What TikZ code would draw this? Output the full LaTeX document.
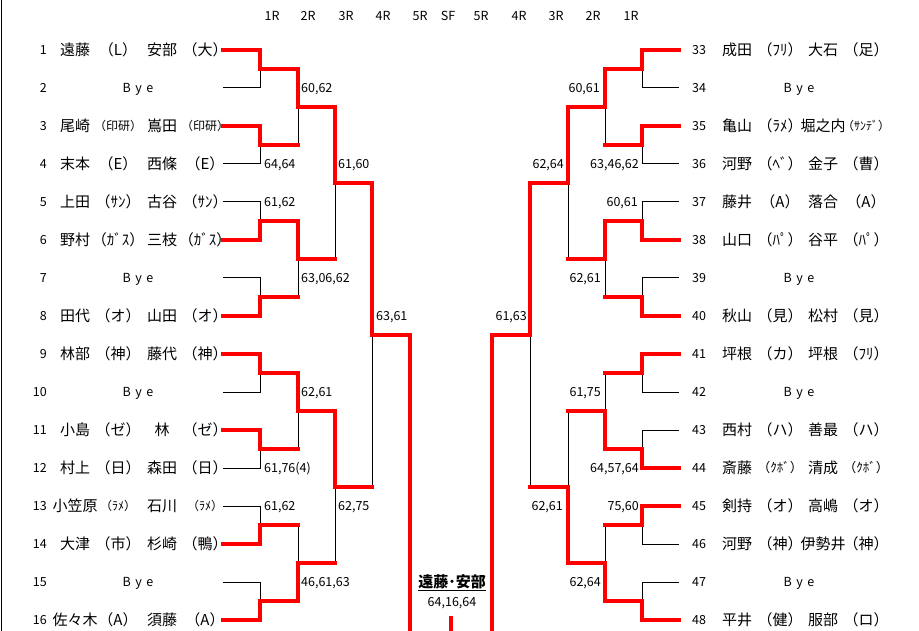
\documentclass[tikz,border=0pt]{standalone}
\usepackage{fontspec}
\setmainfont{Noto Sans CJK JP}
\usetikzlibrary{calc}
\pgfdeclarelayer{back}
\pgfdeclarelayer{paper}
\pgfsetlayers{paper,back,main}
\newcommand{\smf}{\fontsize{12}{12}\selectfont}
\tikzset{
  win/.style={draw=red, line width=3.3pt, line cap=rect, line join=miter},
  lose/.style={draw=black, line width=1pt},
  num/.style={font=\fontsize{12.5}{12.5}\selectfont, inner sep=0pt, text height=9pt, text depth=0pt},
  nm/.style={font=\fontsize{15}{15}\selectfont, inner sep=0pt},
  sc/.style={font=\fontsize{12.5}{12.5}\selectfont, inner sep=0pt, text height=9pt, text depth=0pt},
}
% first-round match: top row, bottom row, column, next column, name, winner (t/b)
\newcommand{\rone}[6]{%
  \coordinate (#5t) at (#3 |- #1);
  \coordinate (#5b) at (#3 |- #2);
  \coordinate (#5) at ($(#5t)!0.5!(#5b)$);
  \coordinate (#5o) at (#4 |- #5);
  \if#6t
    \begin{pgfonlayer}{back}\draw[lose] (#2) -- (#5b) -- (#5);\end{pgfonlayer}
    \draw[win] (#1) -- (#5t) -- (#5) -- (#5o);
  \else
    \begin{pgfonlayer}{back}\draw[lose] (#1) -- (#5t) -- (#5);\end{pgfonlayer}
    \draw[win] (#2) -- (#5b) -- (#5) -- (#5o);
  \fi
}
% later-round match
\newcommand{\brk}[6]{%
  \coordinate (#5t) at (#3 |- #1);
  \coordinate (#5b) at (#3 |- #2);
  \coordinate (#5) at ($(#5t)!0.5!(#5b)$);
  \coordinate (#5o) at (#4 |- #5);
  \if#6t
    \begin{pgfonlayer}{back}\draw[lose] (#5b) -- (#5);\end{pgfonlayer}
    \draw[win] (#5t) -- (#5) -- (#5o);
  \else
    \begin{pgfonlayer}{back}\draw[lose] (#5t) -- (#5);\end{pgfonlayer}
    \draw[win] (#5b) -- (#5) -- (#5o);
  \fi
}
\newcommand{\entL}[5]{%
  \pgfmathsetmacro{\yy}{50+38*(#1-1)}
  \coordinate (L#1) at (223,\yy);
  \node[num, anchor=east] (numL#1) at (47,\yy) {#1};
  \node[nm] (naL#1) at (75,\yy) {#2};
  \node[nm] (afL#1) at (118,\yy) {#3};
  \node[nm] (nbL#1) at (162,\yy) {#4};
  \node[nm] (agL#1) at (205,\yy) {#5};
}
\newcommand{\byeL}[1]{%
  \pgfmathsetmacro{\yy}{50+38*(#1-1)}
  \coordinate (L#1) at (223,\yy);
  \node[num, anchor=east] (numL#1) at (47,\yy) {#1};
  \node[num, text depth=2.5pt] (byeL#1) at (138,\yy+1.2) {B\hspace{4.5pt}y\hspace{4.5pt}e};
}
\newcommand{\entR}[5]{%
  \pgfmathsetmacro{\yy}{50+38*(#1-33)}
  \coordinate (R#1) at (679,\yy);
  \node[num, anchor=west] (numR#1) at (692,\yy) {#1};
  \node[nm] (naR#1) at (737,\yy) {#2};
  \node[nm] (afR#1) at (780,\yy) {#3};
  \node[nm] (nbR#1) at (823,\yy) {#4};
  \node[nm] (agR#1) at (866,\yy) {#5};
}
\newcommand{\byeR}[1]{%
  \pgfmathsetmacro{\yy}{50+38*(#1-33)}
  \coordinate (R#1) at (679,\yy);
  \node[num, anchor=west] (numR#1) at (692,\yy) {#1};
  \node[num, text depth=2.5pt] (byeR#1) at (799,\yy+1.2) {B\hspace{4.5pt}y\hspace{4.5pt}e};
}
\begin{document}
\begin{tikzpicture}[x=1pt,y=-1pt]
\useasboundingbox (0,0) rectangle (919,631);
\begin{pgfonlayer}{paper}\fill[white] (0,0) rectangle (919,631);\end{pgfonlayer}
\coordinate (bot) at (0,631);
\coordinate (border) at (1,0);
\draw[black, line width=1pt] (border) -- (border |- bot);

% headers
\foreach \lab/\xx [count=\k] in {1R/272,2R/308,3R/346,4R/383,5R/420,SF/448,5R/481,4R/519,3R/556,2R/593,1R/631}
  \node[num] (hd\k) at (\xx,16) {\lab};

% columns
\coordinate (cL1) at (260,0); \coordinate (cL2) at (298,0); \coordinate (cL3) at (335,0);
\coordinate (cL4) at (372,0); \coordinate (cL5) at (410,0);
\coordinate (cR1) at (642,0); \coordinate (cR2) at (605,0); \coordinate (cR3) at (568,0);
\coordinate (cR4) at (530,0); \coordinate (cR5) at (492,0);

% left entries
\entL{1}{遠藤}{（L）}{安部}{（大）}
\byeL{2}
\entL{3}{尾崎}{\smf （印研）}{嶌田}{\smf （印研）}
\entL{4}{末本}{（E）}{西條}{（E）}
\entL{5}{上田}{（ｻﾝ）}{古谷}{（ｻﾝ）}
\entL{6}{野村}{（ｶﾞｽ）}{三枝}{（ｶﾞｽ）}
\byeL{7}
\entL{8}{田代}{（オ）}{山田}{（オ）}
\entL{9}{林部}{（神）}{藤代}{（神）}
\byeL{10}
\entL{11}{小島}{（ゼ）}{林}{（ゼ）}
\entL{12}{村上}{（日）}{森田}{（日）}
\entL{13}{小笠原}{\smf （ﾗﾒ）}{石川}{\smf （ﾗﾒ）}
\entL{14}{大津}{（市）}{杉崎}{（鴨）}
\byeL{15}
\entL{16}{佐々木}{（A）}{須藤}{（A）}

% right entries
\entR{33}{成田}{（ﾌﾘ）}{大石}{（足）}
\byeR{34}
\entR{35}{亀山}{（ﾗﾒ）}{堀之内}{\smf （ｻﾝﾃﾞ）}
\entR{36}{河野}{（ﾍﾞ）}{金子}{（曹）}
\entR{37}{藤井}{（A）}{落合}{（A）}
\entR{38}{山口}{（ﾊﾟ）}{谷平}{（ﾊﾟ）}
\byeR{39}
\entR{40}{秋山}{（見）}{松村}{（見）}
\entR{41}{坪根}{（カ）}{坪根}{（ﾌﾘ）}
\byeR{42}
\entR{43}{西村}{（ハ）}{善最}{（ハ）}
\entR{44}{斎藤}{\fontsize{13}{13}\selectfont （ｸﾎﾞ）}{清成}{\fontsize{13}{13}\selectfont （ｸﾎﾞ）}
\entR{45}{剣持}{（オ）}{高嶋}{（オ）}
\entR{46}{河野}{（神）}{伊勢井}{（神）}
\byeR{47}
\entR{48}{平井}{（健）}{服部}{（ロ）}

% left bracket
\rone{L1}{L2}{cL1}{cL2}{ma}{t}
\rone{L3}{L4}{cL1}{cL2}{mb}{t}
\rone{L5}{L6}{cL1}{cL2}{mc}{b}
\rone{L7}{L8}{cL1}{cL2}{md}{b}
\rone{L9}{L10}{cL1}{cL2}{me}{t}
\rone{L11}{L12}{cL1}{cL2}{mf}{t}
\rone{L13}{L14}{cL1}{cL2}{mg}{b}
\rone{L15}{L16}{cL1}{cL2}{mh}{b}
\brk{mao}{mbo}{cL2}{cL3}{na}{t}
\brk{mco}{mdo}{cL2}{cL3}{nb}{t}
\brk{meo}{mfo}{cL2}{cL3}{nc}{t}
\brk{mgo}{mho}{cL2}{cL3}{nd}{b}
\brk{nao}{nbo}{cL3}{cL4}{qa}{t}
\brk{nco}{ndo}{cL3}{cL4}{qb}{t}
\brk{qao}{qbo}{cL4}{cL5}{sa}{t}
\draw[win] (sao) -- (sao |- bot);

% right bracket
\rone{R33}{R34}{cR1}{cR2}{Ma}{t}
\rone{R35}{R36}{cR1}{cR2}{Mb}{t}
\rone{R37}{R38}{cR1}{cR2}{Mc}{b}
\rone{R39}{R40}{cR1}{cR2}{Md}{b}
\rone{R41}{R42}{cR1}{cR2}{Me}{t}
\rone{R43}{R44}{cR1}{cR2}{Mf}{b}
\rone{R45}{R46}{cR1}{cR2}{Mg}{t}
\rone{R47}{R48}{cR1}{cR2}{Mh}{b}
\brk{Mao}{Mbo}{cR2}{cR3}{Na}{t}
\brk{Mco}{Mdo}{cR2}{cR3}{Nb}{t}
\brk{Meo}{Mfo}{cR2}{cR3}{Nc}{b}
\brk{Mgo}{Mho}{cR2}{cR3}{Nd}{b}
\brk{Nao}{Nbo}{cR3}{cR4}{Qa}{t}
\brk{Nco}{Ndo}{cR3}{cR4}{Qb}{b}
\brk{Qao}{Qbo}{cR4}{cR5}{Sa}{t}
\draw[win] (Sao) -- (Sao |- bot);

% scores left
\node[sc, anchor=west] (sL1) at (301,88) {60,62};
\node[sc, anchor=west] (sL2) at (264,164) {64,64};
\node[sc, anchor=west] (sL3) at (338,164) {61,60};
\node[sc, anchor=west] (sL4) at (264,202) {61,62};
\node[sc, anchor=west] (sL5) at (301,278) {63,06,62};
\node[sc, anchor=west] (sL6) at (376,316) {63,61};
\node[sc, anchor=west] (sL7) at (301,392) {62,61};
\node[sc, anchor=west] (sL8) at (264,468) {61,76(4)};
\node[sc, anchor=west] (sL9) at (264,506) {61,62};
\node[sc, anchor=west] (sL10) at (338,506) {62,75};
\node[sc, anchor=west] (sL11) at (301,582) {46,61,63};
% scores right
\node[sc, anchor=east] (sR1) at (600,88) {60,61};
\node[sc, anchor=east] (sR2) at (564,164) {62,64};
\node[sc, anchor=east] (sR3) at (639,164) {63,46,62};
\node[sc, anchor=east] (sR4) at (638,202) {60,61};
\node[sc, anchor=east] (sR5) at (601,278) {62,61};
\node[sc, anchor=east] (sR6) at (527,316) {61,63};
\node[sc, anchor=east] (sR7) at (601,392) {61,75};
\node[sc, anchor=east] (sR8) at (639,468) {64,57,64};
\node[sc, anchor=east] (sR9) at (563,506) {62,61};
\node[sc, anchor=east] (sR10) at (639,506) {75,60};
\node[sc, anchor=east] (sR11) at (601,582) {62,64};

% centre
\node[inner sep=0pt, font=\fontsize{15}{15}\selectfont\bfseries] (champ) at (452,583) {\underline{遠藤･安部}};
\node[sc] (final) at (452,602) {64,16,64};
\coordinate (fin) at (451,616);
\draw[win, line cap=butt] (fin) -- (fin |- bot);
\end{tikzpicture}
\end{document}
